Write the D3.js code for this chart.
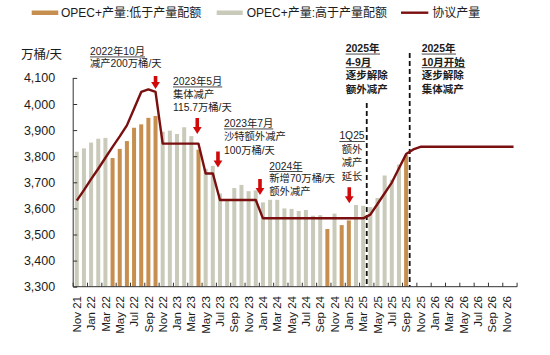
<!DOCTYPE html>
<html><head><meta charset="utf-8">
<script src="https://cdn.jsdelivr.net/npm/d3@7"></script>
<style>
body{margin:0;background:#fff;}
svg{display:block;font-family:"Liberation Sans","Noto Sans CJK SC",sans-serif;}
</style>
</head><body>
<svg id="c" width="550" height="355"></svg>
<script>
// ---- data ----
const months = ["Nov 21","Dec 21","Jan 22","Feb 22","Mar 22","Apr 22","May 22","Jun 22","Jul 22","Aug 22","Sep 22","Oct 22",
"Nov 22","Dec 22","Jan 23","Feb 23","Mar 23","Apr 23","May 23","Jun 23","Jul 23","Aug 23","Sep 23","Oct 23",
"Nov 23","Dec 23","Jan 24","Feb 24","Mar 24","Apr 24","May 24","Jun 24","Jul 24","Aug 24","Sep 24","Oct 24",
"Nov 24","Dec 24","Jan 25","Feb 25","Mar 25","Apr 25","May 25","Jun 25","Jul 25","Aug 25","Sep 25","Oct 25",
"Nov 25","Dec 25","Jan 26","Feb 26","Mar 26","Apr 26","May 26","Jun 26","Jul 26","Aug 26","Sep 26","Oct 26",
"Nov 26","Dec 26"];
// 协议产量 (万桶/天)
const quota = [3630,3670,3712,3752,3794,3836,3876,3918,3982,4046,4056,4046,
3848,3848,3848,3848,3848,3848,3734,3734,3632,3632,3632,3632,
3632,3632,3562,3562,3562,3562,3562,3562,3562,3562,3562,3562,
3562,3562,3562,3562,3562,3576,3617,3658,3699,3754,3808,3826,
3836,3836,3836,3836,3836,3836,3836,3836,3836,3836,3836,3836,
3836,3836];
// OPEC+ 产量 (万桶/天), Nov 21 – Sep 25
const production = [3817,3830,3852,3867,3870,3793,3828,3858,3909,3922,3947,3954,
3894,3898,3885,3911,3877,3825,3752,3763,3657,3636,3678,3690,
3666,3669,3623,3633,3633,3600,3598,3590,3594,3572,3574,3521,
3580,3536,3554,3613,3610,3605,3640,3726,3710,3768,3804];
const yTicks = [3300,3400,3500,3600,3700,3800,3900,4000,4100];
const xTickLabels = ["Nov 21","Jan 22","Mar 22","May 22","Jul 22","Sep 22","Nov 22","Jan 23","Mar 23","May 23","Jul 23","Sep 23",
"Nov 23","Jan 24","Mar 24","May 24","Jul 24","Sep 24","Nov 24","Jan 25","Mar 25","May 25","Jul 25","Sep 25",
"Nov 25","Jan 26","Mar 26","May 26","Jul 26","Sep 26","Nov 26"];
const seriesNames = ["OPEC+产量:低于产量配额","OPEC+产量:高于产量配额","协议产量"];
const yUnit = "万桶/天";

// annotations (u = position in month steps from axis start, v = value of first baseline)
const notes = [
  {lines:["2022年10月","减产200万桶/天"], u:2.35, v:4188, gap:12, ul:1, bold:false, anchor:"start"},
  {lines:["2023年5月","集体减产","115.7万桶/天"], u:13.94, v:4073, gap:13, ul:1, bold:false, anchor:"start"},
  {lines:["2023年7月","沙特额外减产","100万桶/天"], u:21.06, v:3912, gap:13.5, ul:1, bold:false, anchor:"start"},
  {lines:["2024年","新增70万桶/天","额外减产"], u:27.39, v:3749, gap:12.5, ul:1, bold:false, anchor:"start"},
  {lines:["1Q25","额外","减产","延长"], u:38.94, v:3864, gap:13.5, ul:1, bold:false, anchor:"middle"},
  {lines:["2025年","4-9月","逐步解除","额外减产"], u:38.06, v:4199, gap:13.6, ul:2, bold:true, anchor:"start"},
  {lines:["2025年","10月开始","逐步解除","集体减产"], u:48.67, v:4199, gap:13.6, ul:2, bold:true, anchor:"start"}
];
const arrows = [
  {u:11.5, tip:4057, len:13},
  {u:17.33, tip:3885, len:16},
  {u:20.22, tip:3757, len:16},
  {u:26.09, tip:3651, len:16},
  {u:38.56, tip:3620, len:16}
];
const dividers = [{u:41, top:4004},{u:47, top:4195}];

// ---- drawing ----
const svg = d3.select("#c");
const X0 = 73.2, X1 = 517.1, YB = 286.7, YT = 77.9;
const x = d3.scaleBand().domain(months).range([X0, X1]).paddingInner(0.44).paddingOuter(0.22);
const step = x.step();
const xu = u => X0 + u*step;
const y = d3.scaleLinear().domain([3300,4100]).range([YB, YT]);
const cx = m => x(m) + x.bandwidth()/2;

const C_LOW = "#C68F4F", C_HIGH = "#CACABA", C_LINE = "#7A0F0F", C_ARROW = "#D00A0A", C_TEXT = "#1c1c1c";

// bars
svg.append("g").selectAll("rect").data(production).join("rect")
  .attr("x", (d,i)=>x(months[i]))
  .attr("width", x.bandwidth())
  .attr("y", d=>y(d))
  .attr("height", d=>YB - y(d))
  .attr("fill", (d,i)=> d < quota[i] ? C_LOW : C_HIGH);

// dividers
svg.append("g").selectAll("line").data(dividers).join("line")
  .attr("x1", d=>xu(d.u)).attr("x2", d=>xu(d.u))
  .attr("y1", d=>y(d.top)).attr("y2", YB)
  .attr("stroke","#111").attr("stroke-width",1.8).attr("stroke-dasharray","5,3");

// quota line
svg.append("path").datum(quota)
  .attr("d", d3.line().x((d,i)=>cx(months[i])).y(d=>y(d)))
  .attr("fill","none").attr("stroke",C_LINE).attr("stroke-width",2.4).attr("stroke-linejoin","round");

// y axis
const yAxis = d3.axisLeft(y).tickValues(yTicks).tickSize(-4).tickPadding(18)
  .tickFormat(d3.format(","));
const gy = svg.append("g").attr("transform",`translate(${X0},0)`).call(yAxis);
gy.select(".domain").attr("stroke","#333").attr("d",`M0,${YT}V${YB}`);
gy.selectAll(".tick line").attr("stroke","#333");
gy.selectAll(".tick text").attr("font-size",12.5).attr("fill",C_TEXT)
  .attr("font-family","'Liberation Sans','Noto Sans CJK SC',sans-serif");

// x axis
const xAxisG = svg.append("g");
xAxisG.append("line").attr("x1",X0).attr("x2",X1).attr("y1",YB).attr("y2",YB).attr("stroke","#333");
const tickBounds = d3.range(0, months.length+1, 2);
xAxisG.selectAll("line.t").data(tickBounds).join("line").attr("class","t")
  .attr("x1", d=>xu(d)).attr("x2", d=>xu(d)).attr("y1",YB).attr("y2",YB-4).attr("stroke","#333");
xAxisG.selectAll("text").data(xTickLabels).join("text")
  .attr("transform", d=>`translate(${cx(d)},296) rotate(-90)`)
  .attr("text-anchor","end").attr("dy","0.36em")
  .attr("font-size",11.5).attr("fill",C_TEXT).text(d=>d);

// unit label
svg.append("text").attr("x",21).attr("y",59).attr("font-size",12.5).attr("fill",C_TEXT).text(yUnit);

// arrows
svg.append("g").selectAll("path").data(arrows).join("path")
  .attr("fill", C_ARROW)
  .attr("d", d=>{
    const ax = xu(d.u), tip = y(d.tip), top = tip - d.len, hl = 7, sw = 1.8, hw = 4.4;
    return `M${ax-sw},${top}L${ax+sw},${top}L${ax+sw},${tip-hl}L${ax+hw},${tip-hl}L${ax},${tip}L${ax-hw},${tip-hl}L${ax-sw},${tip-hl}Z`;
  });

// annotations
notes.forEach(n=>{
  const g = svg.append("g");
  n.lines.forEach((t,k)=>{
    const tx = g.append("text").attr("x", xu(n.u)).attr("y", y(n.v) + k*n.gap)
      .attr("text-anchor", n.anchor).attr("font-size", n.bold?10.5:10.3)
      .attr("font-weight", n.bold?"bold":"normal").attr("fill", C_TEXT).text(t);
    if (k < n.ul) {
      const bb = tx.node().getBBox();
      g.append("line").attr("x1",bb.x).attr("x2",bb.x+bb.width)
        .attr("y1", y(n.v)+k*n.gap+2).attr("y2", y(n.v)+k*n.gap+2)
        .attr("stroke",C_TEXT).attr("stroke-width",0.8);
    }
  });
});

// legend
const lg = svg.append("g");
const legendItems = [
  {name:seriesNames[0], type:"bar", color:C_LOW, x:31.7, w:26.6, tx:61},
  {name:seriesNames[1], type:"bar", color:C_HIGH, x:216.7, w:26, tx:246.7},
  {name:seriesNames[2], type:"line", color:C_LINE, x:401, w:27.3, tx:432.3}
];
legendItems.forEach(it=>{
  if (it.type==="bar") lg.append("rect").attr("x",it.x).attr("y",10.5).attr("width",it.w).attr("height",4.5).attr("fill",it.color);
  else lg.append("line").attr("x1",it.x).attr("x2",it.x+it.w).attr("y1",12.7).attr("y2",12.7).attr("stroke",it.color).attr("stroke-width",2.4);
  lg.append("text").attr("x",it.tx).attr("y",17).attr("font-size",12).attr("fill",C_TEXT).text(it.name);
});
</script>
</body></html>
